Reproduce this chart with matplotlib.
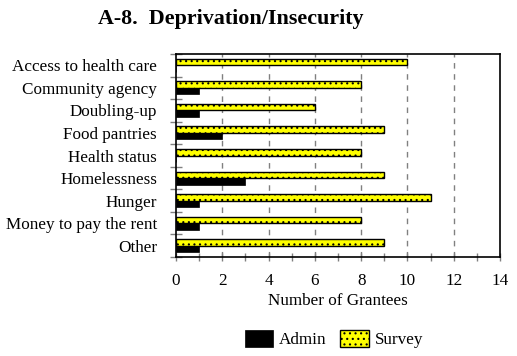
import matplotlib
matplotlib.use("Agg")
import matplotlib.pyplot as plt
import numpy as np
from matplotlib.ticker import MultipleLocator

categories = ["Access to health care", "Community agency", "Doubling-up",
              "Food pantries", "Health status", "Homelessness", "Hunger",
              "Money to pay the rent", "Other"]
survey = [10, 8, 6, 9, 8, 9, 11, 8, 9]
admin = [0, 1, 1, 2, 0, 3, 1, 1, 1]
xticks = [0, 2, 4, 6, 8, 10, 12, 14]

plt.rcParams['font.family'] = ['Liberation Serif', 'DejaVu Serif']
plt.rcParams['hatch.linewidth'] = 0.8

fig = plt.figure(figsize=(5.17, 3.56), dpi=100)
ax = fig.add_axes([176/517, 1-257/356, (500-176)/517, (257-54)/356])

y = np.arange(len(categories))
h = 0.29
ax.barh(y - h/2, survey, height=h, color='#ffff00', edgecolor='black',
        hatch='...', linewidth=1.0, label='Survey', zorder=3)
ax.barh(y + h/2, admin, height=h, color='black', edgecolor='black',
        linewidth=0.5, label='Admin', zorder=3)

fs = 12.3
ax.set_xlim(0, 14)
ax.set_ylim(len(categories) - 0.5, -0.5)
ax.set_xticks(xticks)
ax.xaxis.set_minor_locator(MultipleLocator(1))
ax.set_yticks(np.arange(len(categories) + 1) - 0.5, minor=False)
ax.set_yticklabels([])
ax.set_yticks(y, minor=True)
ax.set_yticklabels(categories, minor=True, fontsize=fs)
ax.tick_params(axis='y', which='minor', length=0, pad=13.7)
ax.tick_params(axis='y', which='major', direction='inout', length=9,
               color='#808080', width=1)
ax.tick_params(axis='x', which='both', direction='inout', length=6,
               color='#808080', width=1, labelsize=fs, pad=8.5)
for v in xticks[1:-1]:
    ax.axvline(v, color='#808080', linestyle=(0, (4, 4)), linewidth=1, zorder=1)
for s in ax.spines.values():
    s.set_linewidth(1.2)
ax.set_xlabel("Number of Grantees", fontsize=fs, labelpad=3)

fig.text(231/517, 1-19/356, "A-8.  Deprivation/Insecurity", ha='center', va='center',
         fontsize=15.8, fontweight='bold')

handles, labels = ax.get_legend_handles_labels()
fig.legend(handles[::-1], labels[::-1], loc='center', bbox_to_anchor=(334/517, 1-339/356),
           ncol=2, frameon=False, fontsize=fs, handlelength=1.65, handleheight=1.15,
           columnspacing=0.8, handletextpad=0.35)

fig.savefig("out.png", dpi=100)
